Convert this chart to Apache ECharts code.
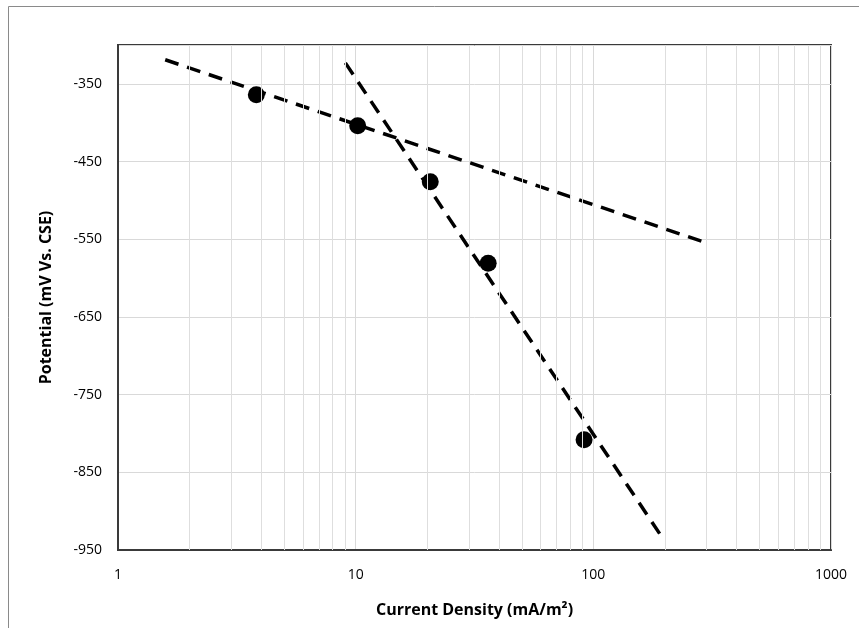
<!DOCTYPE html>
<html>
<head>
<meta charset="utf-8">
<script src="https://cdn.jsdelivr.net/npm/echarts@6/dist/echarts.min.js"></script>
<style>
  html, body { margin: 0; padding: 0; background: #fff; }
  #chart { width: 859px; height: 628px; }
</style>
</head>
<body>
<div id="chart"></div>
<script>
// measured points (current density mA/m2, potential mV)
var pointX = [3.82, 10.2, 20.6, 36.1, 91.4];
var pointY = [-364, -404, -476, -581, -808];

// two fitted tafel lines
var fit1X = [1.58, 288];
var fit1Y = [-319, -553];
var fit2X = [9.05, 198];
var fit2Y = [-323, -937];

// minor grid positions on the log axis
var minorX = [2, 3, 4, 5, 6, 7, 8, 9, 20, 30, 40, 50, 60, 70, 80, 90, 200, 300, 400, 500, 600, 700, 800, 900];

function pairs(xs, ys) {
    return xs.map(function (x, i) { return [x, ys[i]]; });
}

var chart = echarts.init(document.getElementById('chart'));
var font = 'Open Sans, Noto Sans, sans-serif';
var dash = {color: '#000', width: 3.5, type: [14, 9]};

var option = {
    animation: false,
    grid: {
        left: 118, right: 28, top: 45, bottom: 78,
        show: true, borderColor: '#3a3a3a', borderWidth: 2
    },
    graphic: [{
        type: 'rect',
        shape: {x: 8.5, y: 6.5, width: 900, height: 700},
        style: {fill: 'none', stroke: '#8a8a8a', lineWidth: 1},
        silent: true
    }],
    xAxis: {
        type: 'log',
        logBase: 10,
        min: 1,
        max: 1000,
        name: 'Current Density (mA/m²)',
        nameLocation: 'middle',
        nameGap: 52,
        nameTextStyle: {fontFamily: font, fontSize: 16, fontWeight: 'bold', color: '#000'},
        axisLine: {show: true, lineStyle: {color: '#3a3a3a', width: 2}},
        axisTick: {show: false},
        axisLabel: {
            fontFamily: font, fontSize: 14, color: '#000', margin: 18,
            formatter: function (v) { return String(Math.round(v)); }
        },
        splitLine: {show: true, lineStyle: {color: '#d9d9d9', width: 1}}
    },
    yAxis: {
        type: 'value',
        min: -950,
        max: -300,
        interval: 100,
        name: 'Potential (mV Vs. CSE)',
        nameLocation: 'middle',
        nameGap: 64,
        nameTextStyle: {fontFamily: font, fontSize: 16, fontWeight: 'bold', color: '#000'},
        axisLine: {show: true, lineStyle: {color: '#3a3a3a', width: 2}},
        axisTick: {show: false},
        axisLabel: {
            fontFamily: font, fontSize: 14, color: '#000', margin: 16,
            formatter: function (v) { return v === -300 ? '' : v; }
        },
        splitLine: {show: true, lineStyle: {color: '#d9d9d9', width: 1}}
    },
    series: [
        {
            type: 'line',
            data: [],
            silent: true,
            markLine: {
                silent: true,
                symbol: 'none',
                label: {show: false},
                lineStyle: {color: '#dedede', width: 1, type: 'solid'},
                data: minorX.map(function (x) { return {xAxis: x}; })
            }
        },
        {
            type: 'line',
            data: pairs(fit1X, fit1Y),
            showSymbol: false,
            lineStyle: dash,
            z: 3
        },
        {
            type: 'line',
            data: pairs(fit2X, fit2Y),
            showSymbol: false,
            lineStyle: dash,
            z: 3
        },
        {
            type: 'scatter',
            data: pairs(pointX, pointY),
            symbol: 'circle',
            symbolSize: 17,
            itemStyle: {color: '#000', opacity: 1},
            z: 4
        }
    ]
};
chart.setOption(option);
</script>
</body>
</html>
